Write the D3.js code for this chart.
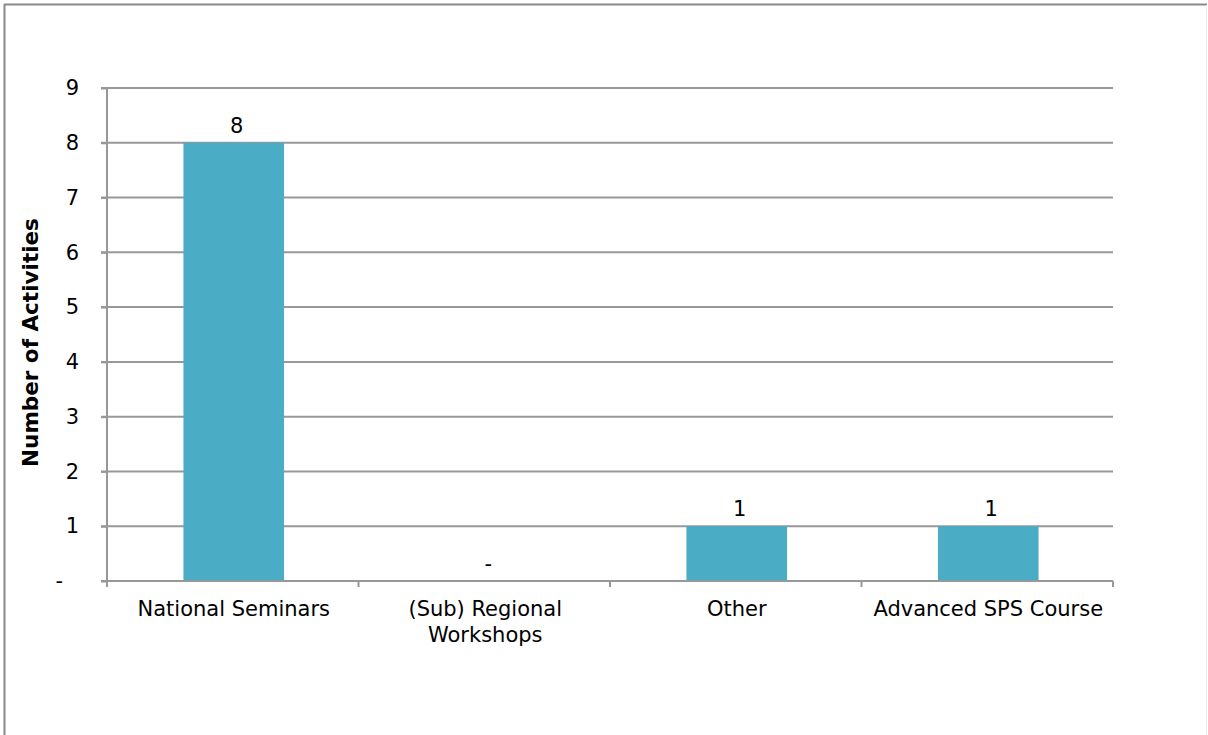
<!DOCTYPE html>
<html><head><meta charset="utf-8">
<script src="https://cdn.jsdelivr.net/npm/d3@7"></script>
<style>
html,body{margin:0;padding:0;background:#fff;}
svg{display:block;}
text{font-family:"DejaVu Sans",Verdana,sans-serif;}
</style></head>
<body>
<script>
const categories = ["National Seminars", "(Sub) Regional Workshops", "Other", "Advanced SPS Course"];
const categoryLines = [["National Seminars"], ["(Sub) Regional", "Workshops"], ["Other"], ["Advanced SPS Course"]];
const values = [8, 0, 1, 1];
const yTicks = [0, 1, 2, 3, 4, 5, 6, 7, 8, 9];
const yTickLabels = ["-", "1", "2", "3", "4", "5", "6", "7", "8", "9"];
const yTitle = "Number of Activities";

(function () {
const W = 1208, H = 735;
const FS = 21;
const svg = d3.select("body").append("svg").attr("width", W).attr("height", H);

// outer frame
svg.append("line").attr("x1", 4.5).attr("x2", 4.5).attr("y1", 4).attr("y2", H)
  .attr("stroke", "#8a8a8a").attr("stroke-width", 2);
svg.append("line").attr("x1", 4).attr("x2", W - 1).attr("y1", 4.5).attr("y2", 4.5)
  .attr("stroke", "#8a8a8a").attr("stroke-width", 2);
svg.append("line").attr("x1", W - 1.5).attr("x2", W - 1.5).attr("y1", 5).attr("y2", H)
  .attr("stroke", "#ececec").attr("stroke-width", 1);

const pl = 107, pr = 1113, pt = 88, pb = 581;
const x = d3.scaleBand().domain(categories).range([pl, pr]).paddingInner(0).paddingOuter(0);
const y = d3.scaleLinear().domain([0, 9]).range([pb, pt]);
const gridColor = "#989898";

// gridlines
svg.append("g").selectAll("line").data(yTicks.filter(d => d > 0)).join("line")
  .attr("x1", pl - 6).attr("x2", pr)
  .attr("y1", d => y(d)).attr("y2", d => y(d))
  .attr("stroke", gridColor).attr("stroke-width", 2);

// bars
const barW = x.bandwidth() * 0.4;
svg.append("g").selectAll("rect").data(values).join("rect")
  .attr("x", (d, i) => x(categories[i]) + (x.bandwidth() - barW) / 2 + 1)
  .attr("width", barW)
  .attr("y", d => y(d))
  .attr("height", d => pb - y(d))
  .attr("fill", "#4BACC6");

// y axis
const yAxis = d3.axisLeft(y).tickValues(yTicks).tickSize(6).tickPadding(22)
  .tickFormat((d, i) => yTickLabels[i]);
const gy = svg.append("g").attr("transform", `translate(${pl},0)`).call(yAxis);
gy.attr("font-size", null);
gy.select(".domain").attr("stroke", gridColor).attr("stroke-width", 2).attr("d", `M0,${pt}V${pb}`);
gy.selectAll(".tick line").attr("stroke", gridColor).attr("stroke-width", 2);
gy.selectAll(".tick text").attr("font-size", FS).attr("fill", "#000")
  .attr("dx", (d, i) => i === 0 ? -16 : 0)
  .style("font-family", '"DejaVu Sans",Verdana,sans-serif');

// x axis
const gx = svg.append("g").attr("transform", `translate(0,${pb})`);
gx.append("line").attr("x1", pl - 6).attr("x2", pr).attr("y1", 0).attr("y2", 0)
  .attr("stroke", gridColor).attr("stroke-width", 2);
const bounds = categories.map(c => x(c)).concat([pr]);
gx.selectAll("line.tk").data(bounds).join("line").attr("class", "tk")
  .attr("x1", d => d).attr("x2", d => d).attr("y1", 0).attr("y2", 6)
  .attr("stroke", gridColor).attr("stroke-width", 2);
gx.selectAll("text.cat").data(categoryLines).join("text").attr("class", "cat")
  .attr("x", (d, i) => x(categories[i]) + x.bandwidth() / 2 + 1)
  .attr("y", 35)
  .attr("text-anchor", "middle").attr("font-size", FS).attr("fill", "#000")
  .each(function(lines) {
    const t = d3.select(this);
    lines.forEach((ln, j) => t.append("tspan").attr("x", t.attr("x")).attr("dy", j === 0 ? 0 : 26).text(ln));
  });

// value labels
svg.append("g").selectAll("text").data(values).join("text")
  .attr("x", (d, i) => x(categories[i]) + x.bandwidth() / 2 + 4)
  .attr("y", d => y(d) - 10)
  .attr("text-anchor", "middle").attr("font-size", FS).attr("fill", "#000")
  .text(d => d === 0 ? "-" : d);

// y title
svg.append("text")
  .attr("transform", `translate(38,${(pt + pb) / 2 + 8}) rotate(-90)`)
  .attr("text-anchor", "middle").attr("font-size", 21.5).attr("font-weight", "bold").attr("fill", "#000")
  .text(yTitle);
})();
</script>
</body></html>
